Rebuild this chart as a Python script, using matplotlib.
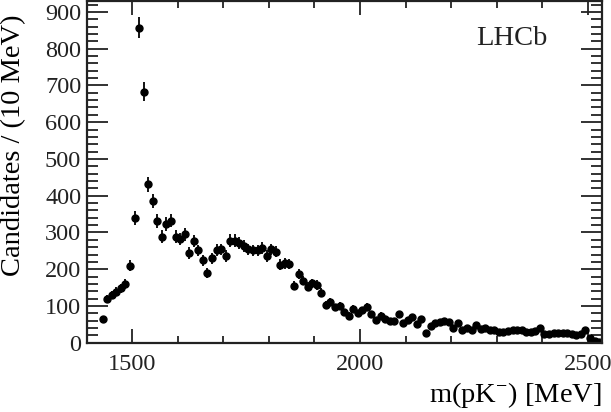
"""m(pK-) mass spectrum, LHCb style."""
import numpy as np
import matplotlib
matplotlib.use("Agg")
import matplotlib.pyplot as plt
from matplotlib.ticker import MultipleLocator

plt.rcParams["font.family"] = ["Liberation Serif", "DejaVu Serif"]
plt.rcParams["mathtext.fontset"] = "custom"
plt.rcParams["mathtext.rm"] = "Liberation Serif"
plt.rcParams["mathtext.it"] = "Liberation Serif:italic"

# bin centres (10 MeV bins)
mass = np.arange(1435, 2530, 10)

counts = [
    64, 119, 130, 139, 148, 160, 210, 339, 857, 683,
    431, 385, 331, 289, 323, 332, 289, 282, 295, 244,
    276, 251, 225, 189, 230, 253, 254, 236, 278, 278,
    271, 262, 254, 251, 251, 257, 236, 254, 248, 212,
    216, 214, 155, 186, 169, 153, 162, 157, 136, 103,
    112, 96, 101, 83, 74, 92, 80, 89, 98, 78,
    62, 74, 66, 60, 60, 78, 53, 62, 71, 51,
    66, 27, 45, 53, 56, 60, 57, 41, 53, 35,
    39, 35, 48, 37, 39, 36, 35, 30, 30, 32,
    35, 35, 34, 30, 30, 32, 41, 25, 25, 27,
    27, 27, 27, 23, 21, 25, 35, 12, 5, 3,
]
counts = np.array(counts[:len(mass)], dtype=float)
errors = np.sqrt(counts)

fig = plt.figure(figsize=(6.11, 4.12), dpi=100)
ax = fig.add_axes([0.142, 0.168, 0.843, 0.830])

ax.errorbar(mass, counts, yerr=errors, fmt="o", color="black",
            markersize=5, elinewidth=1.3, capsize=0)

ax.set_xlim(1400, 2531)
ax.set_ylim(0, 930)
ax.xaxis.set_major_locator(MultipleLocator(500))
ax.xaxis.set_minor_locator(MultipleLocator(100))
ax.yaxis.set_major_locator(MultipleLocator(100))
ax.yaxis.set_minor_locator(MultipleLocator(20))

ax.tick_params(which="both", direction="in", top=True, right=True,
               labelsize=17.5, width=1.3, colors="#222222")
ax.tick_params(axis="x", which="major", length=10, pad=8)
ax.tick_params(axis="x", which="minor", length=5)
ax.tick_params(axis="y", which="major", length=15, pad=4)
ax.tick_params(axis="y", which="minor", length=8)
for s in ax.spines.values():
    s.set_linewidth(1.6)
    s.set_color("#222222")

ax.set_xlabel("m(pK$^{-}$) [MeV]", fontsize=20.5, loc="right", labelpad=4)
ax.set_ylabel("Candidates / (10 MeV)", fontsize=20.5, loc="top")
ax.yaxis.set_label_coords(-0.118, 0.96)
ax.text(0.755, 0.87, "LHCb", transform=ax.transAxes, fontsize=20.5,
        color="#222222")

fig.savefig("out.png", dpi=100)
